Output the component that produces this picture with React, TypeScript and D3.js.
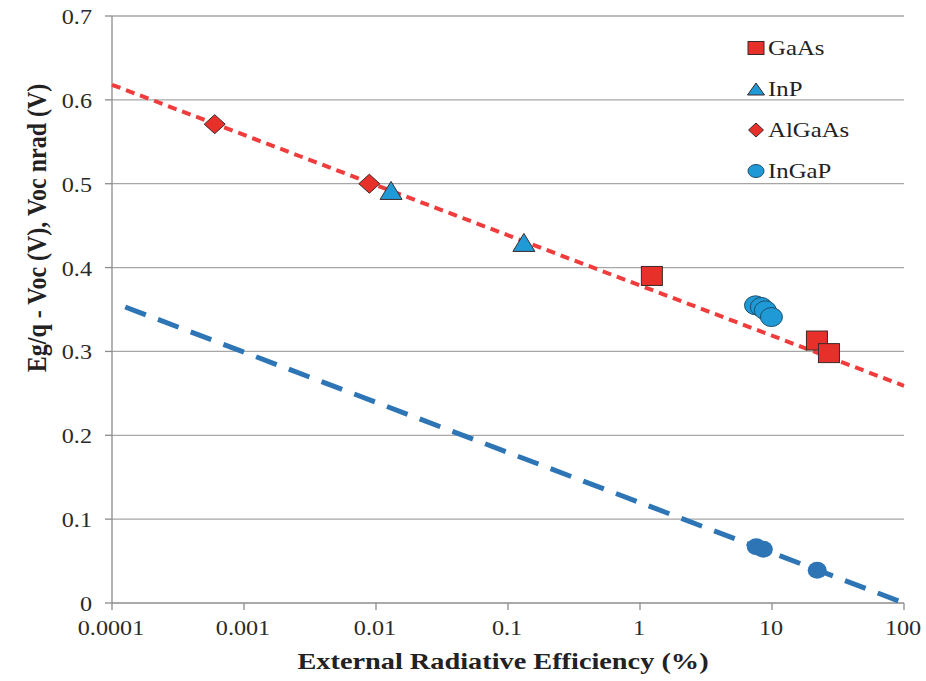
import React from "react";
import * as d3 from "d3";

const xTicks = [0.0001, 0.001, 0.01, 0.1, 1, 10, 100];
const xTickLabels = ["0.0001", "0.001", "0.01", "0.1", "1", "10", "100"];
const yTicks = [0, 0.1, 0.2, 0.3, 0.4, 0.5, 0.6, 0.7];
const yTickLabels = ["0", "0.1", "0.2", "0.3", "0.4", "0.5", "0.6", "0.7"];

const gaas = [
  { x: 1.23, y: 0.39 },
  { x: 21.9, y: 0.313 },
  { x: 27, y: 0.298 },
];
const inp = [
  { x: 0.013, y: 0.492 },
  { x: 0.132, y: 0.43 },
];
const algaas = [
  { x: 0.0006, y: 0.571 },
  { x: 0.0089, y: 0.5 },
];
const ingap = [
  { x: 7.5, y: 0.355 },
  { x: 8.3, y: 0.353 },
  { x: 8.9, y: 0.349 },
  { x: 9.9, y: 0.341 },
];
const ingapNrad = [
  { x: 7.6, y: 0.067 },
  { x: 8.6, y: 0.064 },
  { x: 22, y: 0.039 },
];
const redFit = [
  { x: 0.0001, y: 0.618 },
  { x: 100, y: 0.259 },
];
const blueFit = [
  { x: 0.000126, y: 0.353 },
  { x: 100, y: 0 },
];

const legendItems = ["GaAs", "InP", "AlGaAs", "InGaP"];

const RED = "#e8302a";
const CYAN = "#1f9ad6";
const DARKBLUE = "#2e75b6";
const OUTLINE = "#3a2a2a";
const SX = 1.18;

export default function App() {
  const W = 926;
  const H = 681;
  const x = d3.scaleLog().domain([0.0001, 100]).range([112, 904]);
  const y = d3.scaleLinear().domain([0, 0.7]).range([603, 16]);
  const line = d3
    .line<{ x: number; y: number }>()
    .x((d) => x(d.x))
    .y((d) => y(d.y));
  const font = "Liberation Serif, Times New Roman, serif";

  const square = (cx: number, cy: number, w: number, h: number, key: any) => (
    <rect key={key} x={cx - w / 2} y={cy - h / 2} width={w} height={h} fill={RED} stroke={OUTLINE} strokeWidth={1} />
  );
  const triangle = (cx: number, cy: number, w: number, h: number, key: any) => (
    <path
      key={key}
      d={`M${cx},${cy - h / 2}L${cx + w / 2},${cy + h / 2}L${cx - w / 2},${cy + h / 2}Z`}
      fill={CYAN}
      stroke={OUTLINE}
      strokeWidth={1}
    />
  );
  const diamond = (cx: number, cy: number, w: number, h: number, key: any) => (
    <path
      key={key}
      d={`M${cx},${cy - h / 2}L${cx + w / 2},${cy}L${cx},${cy + h / 2}L${cx - w / 2},${cy}Z`}
      fill={RED}
      stroke={OUTLINE}
      strokeWidth={1}
    />
  );
  const circle = (cx: number, cy: number, w: number, h: number, key: any) => (
    <ellipse key={key} cx={cx} cy={cy} rx={w / 2} ry={h / 2} fill={CYAN} stroke={"#1d4f6e"} strokeWidth={1} />
  );

  const legendMarkers = [square, triangle, diamond, circle];
  const legendSizes = [
    [16, 13],
    [17, 12],
    [15, 14],
    [16, 13],
  ];
  const legendY = [48, 89, 130, 171];

  return (
    <svg width={W} height={H} style={{ position: "absolute", left: 0, top: 0, background: "#fff" }}>
      <rect x={0} y={0} width={W} height={H} fill="#fff" />
      {yTicks.map((t, i) => (
        <g key={"y" + i}>
          {t > 0 && <line x1={112} x2={904} y1={y(t)} y2={y(t)} stroke="#a6a6a6" strokeWidth={1.3} />}
          <line x1={105} x2={112} y1={y(t)} y2={y(t)} stroke="#8c8c8c" strokeWidth={1.3} />
          <text
            transform={`translate(92,${y(t) + 8}) scale(${SX},1)`}
            textAnchor="end"
            fontFamily={font}
            fontSize={20.5}
            fill="#2a2a2a"
          >
            {yTickLabels[i]}
          </text>
        </g>
      ))}
      <line x1={112} x2={112} y1={16} y2={603} stroke="#8c8c8c" strokeWidth={1.3} />
      <line x1={112} x2={904} y1={603} y2={603} stroke="#8c8c8c" strokeWidth={1.3} />
      {xTicks.map((t, i) => (
        <g key={"x" + i}>
          <line x1={x(t)} x2={x(t)} y1={603} y2={610} stroke="#8c8c8c" strokeWidth={1.3} />
          <text
            transform={`translate(${x(t) - 1},635) scale(${SX},1)`}
            textAnchor="middle"
            fontFamily={font}
            fontSize={20.5}
            fill="#2a2a2a"
          >
            {xTickLabels[i]}
          </text>
        </g>
      ))}
      <text
        transform={`translate(503,669) scale(${SX},1)`}
        textAnchor="middle"
        fontFamily={font}
        fontSize={24}
        fontWeight="bold"
        fill="#222"
      >
        External Radiative Efficiency (%)
      </text>
      <text
        transform={`translate(46,228) scale(${SX},1) rotate(-90)`}
        textAnchor="middle"
        fontFamily={font}
        fontSize={24}
        fontWeight="bold"
        fill="#222"
      >
        Eg/q - Voc (V),  Voc nrad (V)
      </text>

      <path d={line(redFit) || ""} fill="none" stroke="#f03c3c" strokeWidth={4} strokeDasharray="9,6" />
      <path d={line(blueFit) || ""} fill="none" stroke={DARKBLUE} strokeWidth={5} strokeDasharray="22,13" />

      {ingapNrad.map((d, i) => (
        <ellipse key={"n" + i} cx={x(d.x)} cy={y(d.y)} rx={9.5} ry={8.5} fill={DARKBLUE} />
      ))}
      {algaas.map((d, i) => diamond(x(d.x), y(d.y), 21, 19, "a" + i))}
      {inp.map((d, i) => triangle(x(d.x), y(d.y), 22, 18, "p" + i))}
      {ingap.map((d, i) => circle(x(d.x), y(d.y), 22, 19, "c" + i))}
      {gaas.map((d, i) => square(x(d.x), y(d.y), 21, 19, "s" + i))}

      {legendItems.map((name, i) => (
        <g key={"l" + i}>
          {legendMarkers[i](756, legendY[i], legendSizes[i][0], legendSizes[i][1], "lm" + i)}
          <text
            transform={`translate(768,${legendY[i] + 7}) scale(${SX},1)`}
            fontFamily={font}
            fontSize={21}
            fill="#222"
          >
            {name}
          </text>
        </g>
      ))}
    </svg>
  );
}
